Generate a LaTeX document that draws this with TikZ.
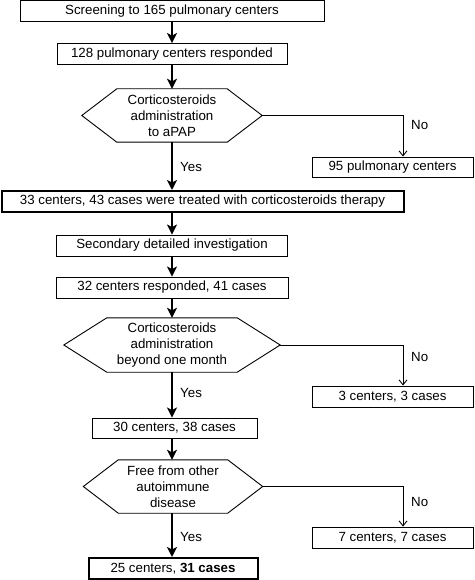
\documentclass[tikz,border=0pt]{standalone}
\usepackage{fontspec}
\setmainfont{Liberation Sans}
\usetikzlibrary{arrows.meta}
\begin{document}
\begin{tikzpicture}[x=1pt,y=-1pt,
  every node/.style={font=\fontsize{13.3}{16}\selectfont, inner sep=0pt},
  box/.style={draw, line width=0.9pt, minimum height=21pt, align=center},
  thickbox/.style={box, line width=2pt},
  hexcore/.style={minimum height=53pt, align=center},
  hexline/.style={draw, line width=0.9pt, line join=miter},
  mainarr/.style={line width=2pt, -{Stealth[length=10pt,width=10pt,inset=2.5pt]}},
  noarr/.style={line width=0.9pt, -{Straight Barb[length=5pt,width=8pt]}},
  lbl/.style={anchor=west}
]
\useasboundingbox (0,0) rectangle (474,580);

% boxes
\node[box, minimum width=304pt] (b1) at (172,11) {Screening to 165 pulmonary centers};
\node[box, minimum width=230pt] (b2) at (172,54) {128 pulmonary centers responded};
\node[hexcore, minimum width=110pt] (h1) at (172,115.5) {Corticosteroids\\administration\\to aPAP};
\node[box, minimum width=161pt, minimum height=20pt] (n1) at (392.5,167) {95 pulmonary centers};
\node[thickbox, minimum width=402pt] (b3) at (202.5,201.5) {33 centers, 43 cases were treated with corticosteroids therapy};
\node[box, minimum width=231pt] (b4) at (172,245.5) {Secondary detailed investigation};
\node[box, minimum width=232pt] (b5) at (172,287.5) {32 centers responded, 41 cases};
\node[hexcore, minimum width=130pt, minimum height=54pt] (h2) at (172,345) {Corticosteroids\\administration\\beyond one month};
\node[box, minimum width=161pt] (n2) at (392.5,396.5) {3 centers, 3 cases};
\node[box, minimum width=165pt, minimum height=20pt] (b6) at (174.5,428) {30 centers, 38 cases};
\node[hexcore, minimum width=109pt] (h3) at (173,486.5) {Free from other\\autoimmune\\disease};
\node[box, minimum width=161pt] (n3) at (392.5,537.5) {7 centers, 7 cases};
\node[thickbox, minimum width=169pt] (b7) at (173,568.5) {25 centers, \textbf{31 cases}};

% hexagon outlines
\coordinate (h1l) at ([xshift=-35pt]h1.west);
\coordinate (h1r) at ([xshift=35pt]h1.east);
\draw[hexline] (h1.north west) -- (h1.north east) -- (h1r) -- (h1.south east) -- (h1.south west) -- (h1l) -- cycle;
\coordinate (h2l) at ([xshift=-43pt]h2.west);
\coordinate (h2r) at ([xshift=43pt]h2.east);
\draw[hexline] (h2.north west) -- (h2.north east) -- (h2r) -- (h2.south east) -- (h2.south west) -- (h2l) -- cycle;
\coordinate (h3l) at ([xshift=-35pt]h3.west);
\coordinate (h3r) at ([xshift=35pt]h3.east);
\draw[hexline] (h3.north west) -- (h3.north east) -- (h3r) -- (h3.south east) -- (h3.south west) -- (h3l) -- cycle;

% main arrows
\draw[mainarr] (b1.south -| 172,0) -- (b2.north -| 172,0);
\draw[mainarr] (b2.south -| 172,0) -- (h1.north -| 172,0);
\draw[mainarr] (h1.south -| 172,0) -- (b3.north -| 172,0);
\draw[mainarr] (b3.south -| 172,0) -- (b4.north -| 172,0);
\draw[mainarr] (b4.south -| 172,0) -- (b5.north -| 172,0);
\draw[mainarr] (b5.south -| 172,0) -- (h2.north -| 172,0);
\draw[mainarr] (h2.south -| 172,0) -- (b6.north -| 172,0);
\draw[mainarr] (b6.south -| 172,0) -- (h3.north -| 172,0);
\draw[mainarr] (h3.south -| 172,0) -- (b7.north -| 172,0);

% no branches
\coordinate (c1) at (403,115.5);
\coordinate (c2) at (403,345);
\coordinate (c3) at (403,486.5);
\draw[noarr] (h1r) -- (c1) -- (c1 |- n1.north);
\draw[noarr] (h2r) -- (c2) -- (c2 |- n2.north);
\draw[noarr] (h3r) -- (c3) -- (c3 |- n3.north);

% labels
\node[lbl] (no1) at (411,125) {No};
\node[lbl] (no2) at (411,357) {No};
\node[lbl] (no3) at (411,502) {No};
\node[lbl] (yes1) at (180,167) {Yes};
\node[lbl] (yes2) at (180,393) {Yes};
\node[lbl] (yes3) at (180,537) {Yes};
\end{tikzpicture}
\end{document}
